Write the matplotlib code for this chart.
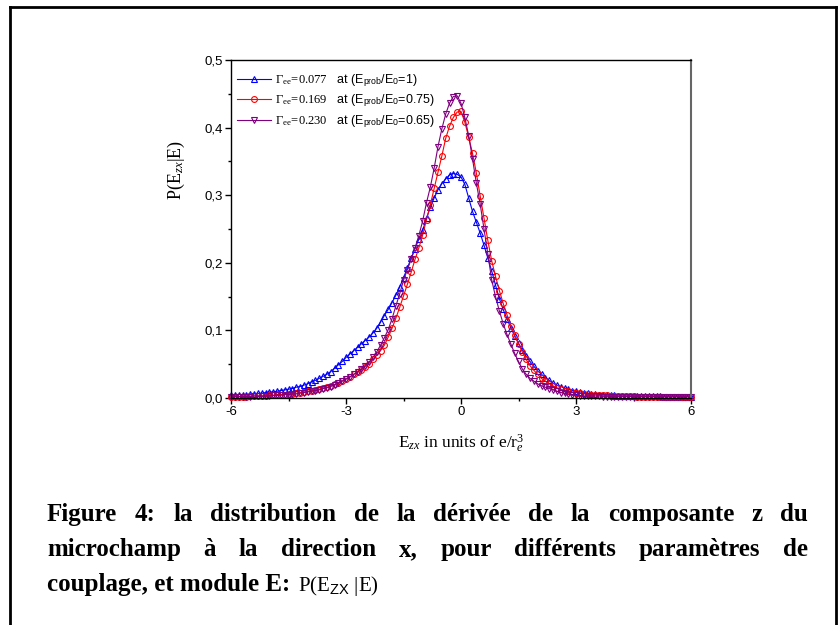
import numpy as np
import matplotlib
matplotlib.use("Agg")
import matplotlib.pyplot as plt
from matplotlib.lines import Line2D
from matplotlib.ticker import MultipleLocator, FuncFormatter

plt.rcParams["font.family"] = "Liberation Sans"
plt.rcParams["mathtext.fontset"] = "custom"
plt.rcParams["mathtext.rm"] = "Liberation Serif"
plt.rcParams["mathtext.it"] = "Liberation Serif:italic"
plt.rcParams["mathtext.bf"] = "Liberation Serif:bold"
plt.rcParams["mathtext.sf"] = "Liberation Sans"

# Data, x grid -6..6 step 0.1
ezx = np.round(np.arange(-6.0, 6.001, 0.1), 1)

p_077 = [0.004, 0.004, 0.005, 0.005, 0.005, 0.006, 0.006, 0.007, 0.007, 0.008,
         0.009, 0.009, 0.010, 0.011, 0.012, 0.013, 0.014, 0.016, 0.017, 0.019,
         0.021, 0.024, 0.026, 0.029, 0.032, 0.035, 0.039, 0.044, 0.049, 0.054,
         0.060, 0.065, 0.070, 0.075, 0.080, 0.085, 0.090, 0.096, 0.103, 0.112,
         0.122, 0.131, 0.141, 0.152, 0.164, 0.178, 0.192, 0.207, 0.221, 0.235,
         0.248, 0.266, 0.282, 0.296, 0.308, 0.317, 0.324, 0.330, 0.332, 0.331,
         0.327, 0.316, 0.296, 0.276, 0.260, 0.244, 0.226, 0.207, 0.188, 0.167,
         0.147, 0.131, 0.117, 0.104, 0.092, 0.081, 0.071, 0.062, 0.054, 0.047,
         0.040, 0.035, 0.030, 0.026, 0.022, 0.019, 0.017, 0.015, 0.013, 0.011,
         0.010, 0.009, 0.008, 0.007, 0.006, 0.006, 0.005, 0.005, 0.004, 0.004,
         0.004, 0.003, 0.003, 0.003, 0.003, 0.003, 0.003, 0.003, 0.003, 0.003,
         0.003, 0.003, 0.003, 0.002, 0.002, 0.002, 0.002, 0.002, 0.002, 0.002, 0.002]

p_169 = [0.002, 0.002, 0.002, 0.002, 0.002, 0.003, 0.003, 0.003, 0.003, 0.003,
         0.004, 0.004, 0.004, 0.005, 0.005, 0.006, 0.006, 0.007, 0.008, 0.009,
         0.010, 0.011, 0.012, 0.013, 0.015, 0.016, 0.018, 0.020, 0.022, 0.025,
         0.028, 0.031, 0.035, 0.038, 0.042, 0.046, 0.051, 0.057, 0.063, 0.070,
         0.078, 0.090, 0.103, 0.118, 0.134, 0.151, 0.168, 0.186, 0.205, 0.222,
         0.241, 0.264, 0.286, 0.310, 0.334, 0.358, 0.384, 0.402, 0.415, 0.423,
         0.424, 0.408, 0.386, 0.362, 0.333, 0.299, 0.266, 0.233, 0.203, 0.180,
         0.159, 0.140, 0.123, 0.107, 0.093, 0.080, 0.068, 0.057, 0.048, 0.041,
         0.035, 0.029, 0.025, 0.021, 0.018, 0.015, 0.013, 0.011, 0.010, 0.009,
         0.008, 0.007, 0.006, 0.006, 0.005, 0.005, 0.004, 0.004, 0.004, 0.003,
         0.003, 0.003, 0.003, 0.003, 0.003, 0.003, 0.002, 0.002, 0.002, 0.002,
         0.002, 0.002, 0.002, 0.002, 0.002, 0.002, 0.002, 0.002, 0.002, 0.002, 0.002]

p_230 = [0.002, 0.002, 0.002, 0.002, 0.002, 0.002, 0.003, 0.003, 0.003, 0.003,
         0.003, 0.004, 0.004, 0.004, 0.005, 0.005, 0.006, 0.006, 0.007, 0.008,
         0.009, 0.010, 0.011, 0.012, 0.014, 0.015, 0.017, 0.019, 0.022, 0.025,
         0.028, 0.031, 0.035, 0.038, 0.043, 0.048, 0.053, 0.060, 0.068, 0.078,
         0.089, 0.101, 0.117, 0.136, 0.154, 0.174, 0.190, 0.205, 0.222, 0.240,
         0.262, 0.289, 0.312, 0.340, 0.372, 0.398, 0.420, 0.436, 0.446, 0.447,
         0.436, 0.415, 0.388, 0.354, 0.318, 0.287, 0.250, 0.213, 0.175, 0.150,
         0.129, 0.110, 0.094, 0.080, 0.066, 0.054, 0.043, 0.035, 0.029, 0.025,
         0.021, 0.018, 0.016, 0.014, 0.012, 0.010, 0.008, 0.007, 0.006, 0.005,
         0.004, 0.003, 0.003, 0.003, 0.003, 0.003, 0.003, 0.002, 0.002, 0.002,
         0.002, 0.002, 0.002, 0.002, 0.002, 0.002, 0.002, 0.002, 0.002, 0.002,
         0.002, 0.002, 0.002, 0.002, 0.002, 0.002, 0.002, 0.002, 0.002, 0.002, 0.002]

labels = [r"$\mathrm{\Gamma_{ee}\!=\!0.077}$   at (E$_\mathsf{prob}$/E$_\mathsf{0}$=1)",
          r"$\mathrm{\Gamma_{ee}\!=\!0.169}$   at (E$_\mathsf{prob}$/E$_\mathsf{0}$=0.75)",
          r"$\mathrm{\Gamma_{ee}\!=\!0.230}$   at (E$_\mathsf{prob}$/E$_\mathsf{0}$=0.65)"]

W, H = 838, 625
fig = plt.figure(figsize=(W / 100, H / 100), dpi=100)
ax = fig.add_axes([231 / W, 1 - 398 / H, 460 / W, 338 / H])

ax.plot(ezx, p_077, color="#0000ff", lw=0.8, marker="^", ms=4.2, mfc="none", mew=0.8,
        label=labels[0], clip_on=False)
ax.plot(ezx, p_169, color="#ff0000", lw=0.8, marker="o", ms=4.2, mfc="none", mew=0.8,
        label=labels[1], clip_on=False)
ax.plot(ezx, p_230, color="#800080", lw=0.8, marker="v", ms=4.2, mfc="none", mew=0.8,
        label=labels[2], clip_on=False)

ax.set_xlim(-6, 6)
ax.set_ylim(0, 0.5)
ax.xaxis.set_major_locator(MultipleLocator(3))
ax.xaxis.set_minor_locator(MultipleLocator(1.5))
ax.yaxis.set_major_locator(MultipleLocator(0.1))
ax.yaxis.set_minor_locator(MultipleLocator(0.05))
ax.yaxis.set_major_formatter(FuncFormatter(lambda v, p: f"{v:.1f}".replace(".", ",")))
ax.xaxis.set_major_formatter(FuncFormatter(lambda v, p: f"{v:.0f}"))
ax.tick_params(which="both", direction="out", width=1, labelsize=9.5, pad=2, top=False, right=False)
ax.tick_params(which="major", length=4)
ax.tick_params(which="minor", length=2.5)
for s in ax.spines.values():
    s.set_linewidth(1)
ax.spines["right"].set_color("#666666")
ax.spines["right"].set_linewidth(1.5)

ax.set_ylabel(r"P(E$_{zx}$|E)", family="Liberation Serif", fontsize=13)
ax.yaxis.set_label_coords(-0.095, 0.675)
ax.set_xlabel(r"E$_{zx}$ in units of e/r$^{3}_{e}$", family="Liberation Serif", fontsize=12.5, labelpad=10)

leg = ax.legend(loc="upper left", bbox_to_anchor=(0.0, 0.982), frameon=False, fontsize=9,
                handlelength=2.7, handletextpad=0.3, labelspacing=0.3, borderaxespad=0.2,
                borderpad=0.3)

# Figure frame
lw = 2
fig.add_artist(Line2D([10 / W, 10 / W], [0, 1 - 7 / H], transform=fig.transFigure, color="black", lw=lw))
fig.add_artist(Line2D([10 / W, 836 / W], [1 - 7 / H, 1 - 7 / H], transform=fig.transFigure, color="black", lw=lw))
fig.add_artist(Line2D([836 / W, 836 / W], [0, 1 - 7 / H], transform=fig.transFigure, color="black", lw=lw))

# Caption (justified)
cap_kw = dict(family="Liberation Serif", weight="bold", fontsize=18, va="baseline")
line1 = "Figure 4: la distribution de la dérivée de la composante z du".split()
line2 = "microchamp à la direction x, pour différents paramètres de".split()
x0, x1 = 47, 808

fig.canvas.draw()
r = fig.canvas.get_renderer()


def justify(words, ybase):
    arts = [fig.text(0, 1 - ybase / H, w, **cap_kw) for w in words]
    widths = [a.get_window_extent(r).width for a in arts]
    gap = (x1 - x0 - sum(widths)) / (len(words) - 1)
    x = x0
    for a, w in zip(arts, widths):
        a.set_x(x / W)
        x += w + gap


justify(line1, 521)
justify(line2, 556)
t3 = fig.text(x0 / W, 1 - 591 / H, "couplage, et module E: ", **cap_kw)
w3 = t3.get_window_extent(r).width
fig.text((x0 + w3 + 2) / W, 1 - 591 / H, r"P(E$_{\mathsf{ZX}}$ |E)", family="Liberation Serif",
         fontsize=15, va="baseline")

fig.savefig("out.png", dpi=100)
